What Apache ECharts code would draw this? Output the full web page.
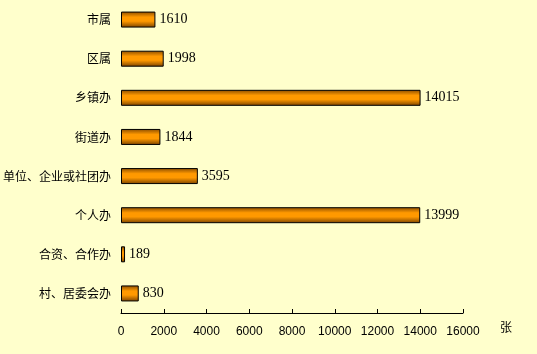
<!DOCTYPE html>
<html>
<head>
<meta charset="utf-8">
<script src="https://cdn.jsdelivr.net/npm/echarts@6/dist/echarts.min.js"></script>
<style>
  html, body { margin: 0; padding: 0; background: #ffffcc; }
  #chart { width: 537px; height: 354px; }
</style>
</head>
<body>
<div id="chart"></div>
<script>
// 类别（从上到下）
var categories = ['市属', '区属', '乡镇办', '街道办', '单位、企业或社团办', '个人办', '合资、合作办', '村、居委会办'];
var counts = [1610, 1998, 14015, 1844, 3595, 13999, 189, 830];
var xTicks = [0, 2000, 4000, 6000, 8000, 10000, 12000, 14000, 16000];

var myChart = echarts.init(document.getElementById('chart'));

var option = {
  backgroundColor: '#ffffcc',
  animation: false,
  grid: {
    left: 120,
    right: 74,
    top: 0,
    bottom: 41,
  },
  xAxis: {
    type: 'value',
    min: xTicks[0],
    max: xTicks[xTicks.length - 1],
    interval: 2000,
    name: '张',
    nameLocation: 'end',
    nameGap: 37,
    nameTextStyle: {
      color: '#000',
      fontSize: 12,
      fontFamily: 'Noto Sans CJK SC',
      verticalAlign: 'top',
      padding: [8, 0, 0, 0],
    },
    axisLine: { show: true, lineStyle: { color: '#000', width: 1 } },
    axisTick: { show: true, inside: true, length: 4, lineStyle: { color: '#000' } },
    axisLabel: {
      color: '#000',
      fontSize: 12,
      fontFamily: 'Liberation Sans',
      margin: 13,
      formatter: function (v) { return String(v); },
    },
    splitLine: { show: false },
  },
  yAxis: {
    type: 'category',
    inverse: true,
    data: categories,
    axisLine: { show: false },
    axisTick: { show: false },
    axisLabel: {
      color: '#000',
      fontSize: 12,
      fontFamily: 'Noto Sans CJK SC',
      margin: 10,
    },
  },
  series: [
    {
      type: 'bar',
      data: counts,
      barWidth: 16,
      itemStyle: {
        color: new echarts.graphic.LinearGradient(0, 0, 0, 1, [
          { offset: 0, color: '#8a4c00' },
          { offset: 0.35, color: '#ff9900' },
          { offset: 0.6, color: '#ff9900' },
          { offset: 1, color: '#7a4200' },
        ]),
        borderColor: '#000',
        borderWidth: 1,
      },
      label: {
        show: true,
        position: 'right',
        distance: 4,
        color: '#000',
        fontSize: 14,
        fontFamily: 'Liberation Serif',
        formatter: '{c}',
      },
    },
  ],
};

option && myChart.setOption(option);
</script>
</body>
</html>
